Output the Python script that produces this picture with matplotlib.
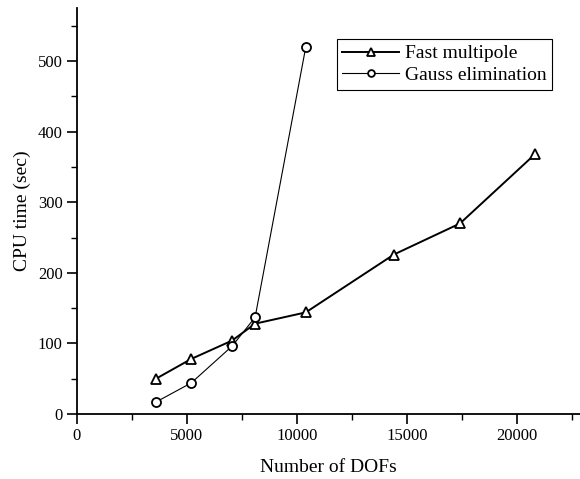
import matplotlib
matplotlib.use("Agg")
import matplotlib.pyplot as plt
from matplotlib.ticker import MultipleLocator

# data
dofs_fmm = [3600, 5200, 7050, 8100, 10400, 14400, 17400, 20800]
cpu_fmm = [50, 78, 104, 128, 144, 226, 270, 368]
dofs_gauss = [3600, 5200, 7050, 8100, 10400]
cpu_gauss = [17, 44, 96, 137, 520]

plt.rcParams['font.family'] = ['Liberation Serif', 'DejaVu Serif']

fig = plt.figure(figsize=(5.8, 4.79), dpi=100)
ax = fig.add_axes([0.1322, 0.1357, 0.8678, 0.847])

ax.plot(dofs_fmm, cpu_fmm, color='black', lw=1.4, marker='^', ms=7,
        mfc='white', mec='black', mew=1.3, label='Fast multipole')
ax.plot(dofs_gauss, cpu_gauss, color='black', lw=0.8, marker='o', ms=6.5,
        mfc='white', mec='black', mew=1.3, label='Gauss elimination')

ax.set_xlim(0, 22850)
ax.set_ylim(0, 575)
ax.xaxis.set_major_locator(MultipleLocator(5000))
ax.xaxis.set_minor_locator(MultipleLocator(2500))
ax.yaxis.set_major_locator(MultipleLocator(100))
ax.yaxis.set_minor_locator(MultipleLocator(50))

for s in ['top', 'right']:
    ax.spines[s].set_visible(False)
for s in ['left', 'bottom']:
    ax.spines[s].set_linewidth(1.3)
ax.tick_params(which='major', direction='out', length=7, width=1.2,
               labelsize=12, pad=3)
ax.tick_params(which='minor', direction='out', length=4, width=1.0)

ax.set_xlabel('Number of DOFs', fontsize=14, labelpad=11)
ax.set_ylabel('CPU time (sec)', fontsize=14, labelpad=5)

leg = ax.legend(loc='upper right', bbox_to_anchor=(0.952, 0.9186),
                bbox_transform=fig.transFigure, fontsize=14, fancybox=False,
                framealpha=1, edgecolor='black', borderaxespad=0,
                handlelength=2.9, handletextpad=0.3, borderpad=0.3,
                labelspacing=0.2, markerscale=0.75)
leg.get_frame().set_linewidth(0.8)

fig.savefig('out.png', dpi=100)
